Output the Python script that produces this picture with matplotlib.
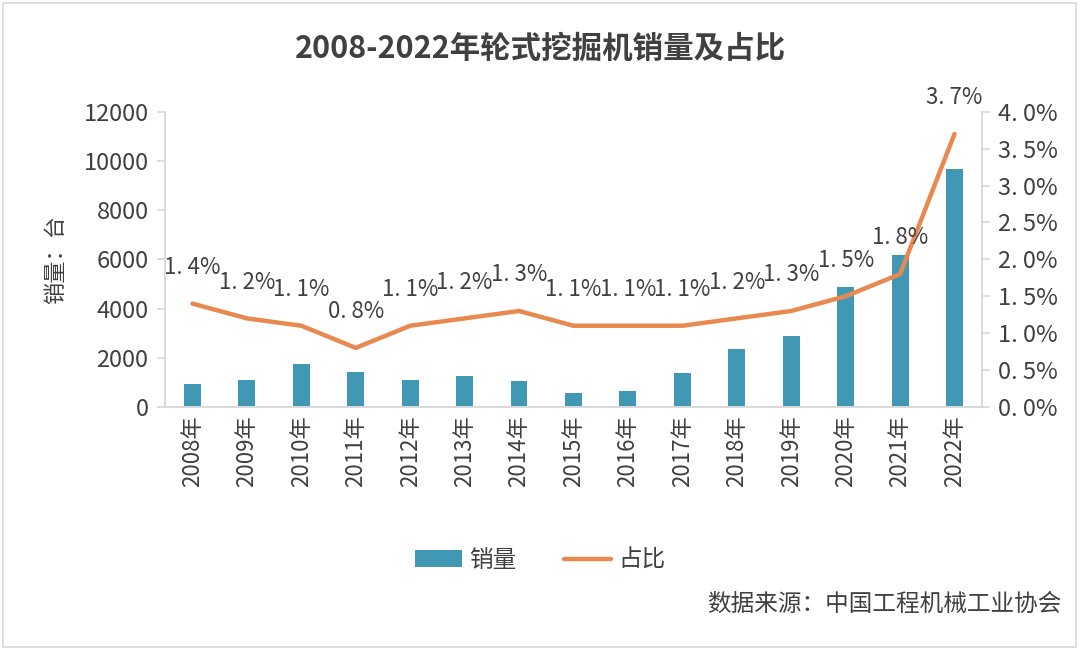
import matplotlib
matplotlib.use("Agg")
import matplotlib.pyplot as plt
from matplotlib.patches import Rectangle, Patch
from matplotlib.lines import Line2D

plt.rcParams['font.family'] = ['Noto Sans CJK SC', 'DejaVu Sans']

# data
years = ["2008年", "2009年", "2010年", "2011年", "2012年", "2013年", "2014年", "2015年",
         "2016年", "2017年", "2018年", "2019年", "2020年", "2021年", "2022年"]
sales = [950, 1090, 1730, 1400, 1100, 1250, 1050, 560, 640, 1360, 2350, 2900, 4860, 6190, 9680]
share = [1.4, 1.2, 1.1, 0.8, 1.1, 1.2, 1.3, 1.1, 1.1, 1.1, 1.2, 1.3, 1.5, 1.8, 3.7]
left_ticks = [0, 2000, 4000, 6000, 8000, 10000, 12000]
right_ticks = [0.0, 0.5, 1.0, 1.5, 2.0, 2.5, 3.0, 3.5, 4.0]

bar_color = "#4198b5"
line_color = "#e8894f"
text_color = "#404040"
grid_color = "#d9d9d9"


def pct(v):
    # reference writes percents with a gap after the dot, e.g. "1. 4%"
    return ("%.1f%%" % v).replace(".", ". ")


fig = plt.figure(figsize=(10.8, 6.5), dpi=100)
ax = fig.add_axes([0.153, 0.374, 0.756, 0.454])
ax2 = ax.twinx()

x = list(range(len(years)))
ax.bar(x, sales, width=0.31, color=bar_color, zorder=2)
ax.set_ylim(0, 12000)
ax.set_xlim(-0.5, len(years) - 0.5)
ax.set_yticks(left_ticks)
ax.set_yticklabels([str(v) for v in left_ticks])
ax.set_xticks(x)
ax.set_xticklabels(years, rotation=90)
ax.set_ylabel("销量：台", fontsize=16, color=text_color, labelpad=12)

ax2.plot(x, share, color=line_color, linewidth=3.2, solid_capstyle="round", zorder=3)
ax2.set_ylim(0, 4.0)
ax2.set_yticks(right_ticks)
ax2.set_yticklabels([pct(v) for v in right_ticks])

for xi, v in zip(x, share):
    ax2.annotate(pct(v), (xi, v), xytext=(0, 26),
                 textcoords="offset points", ha="center", va="center",
                 fontsize=16, color=text_color)

for a in (ax, ax2):
    a.spines["top"].set_visible(False)
    for s in ("left", "right", "bottom"):
        a.spines[s].set_color(grid_color)
        a.spines[s].set_linewidth(1.2)
    a.tick_params(axis="y", colors=grid_color, labelcolor=text_color, labelsize=17,
                  length=6, width=1.2, pad=6)
    a.tick_params(axis="x", length=0, labelcolor=text_color, labelsize=16, pad=6)

ax.set_zorder(1)
ax2.set_zorder(2)
ax2.patch.set_visible(False)

fig.text(0.5, 0.925, "2008-2022年轮式挖掘机销量及占比", ha="center", va="center",
         fontsize=22, fontweight="bold", color=text_color)

handles = [Patch(facecolor=bar_color, edgecolor="none"),
           Line2D([0], [0], color=line_color, linewidth=3.2, solid_capstyle="round")]
fig.legend(handles, ["销量", "占比"], loc="center", bbox_to_anchor=(0.5, 0.138),
           ncol=2, frameon=False, fontsize=17, labelcolor=text_color,
           handlelength=2.0, handleheight=0.7, columnspacing=2.0, handletextpad=0.3)

fig.text(0.983, 0.07, "数据来源：中国工程机械工业协会", ha="right", va="center",
         fontsize=17, color=text_color)

fig.patches.append(Rectangle((0.003, 0.004), 0.993, 0.992, transform=fig.transFigure,
                             fill=False, edgecolor=grid_color, linewidth=1.2))

fig.savefig("out.png", dpi=100)
